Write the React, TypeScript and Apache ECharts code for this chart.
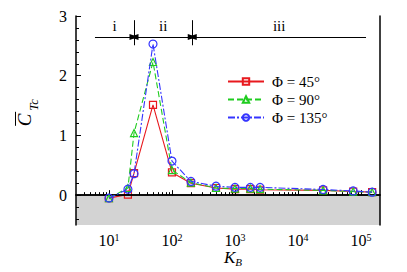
import React, { useEffect, useRef } from 'react';
import * as echarts from 'echarts';

// Stiffness parameter K_B (log axis)
const K = [10, 20, 25, 50, 100, 200, 500, 1000, 1750, 2500, 25000, 75000, 150000];
const phi45 = [-0.05, 0.01, 0.37, 1.51, 0.38, 0.2, 0.12, 0.1, 0.1, 0.09, 0.08, 0.06, 0.05];
const phi90 = [-0.05, 0.12, 1.04, 2.23, 0.42, 0.21, 0.12, 0.11, 0.11, 0.1, 0.08, 0.06, 0.05];
const phi135 = [-0.05, 0.1, 0.36, 2.53, 0.57, 0.23, 0.15, 0.13, 0.13, 0.13, 0.095, 0.07, 0.05];

const seriesNames = ['Φ = 45°', 'Φ = 90°', 'Φ = 135°'];

const xMin = 3;
const xMax = 200000;
const yMin = -0.5;
const yMax = 3;

const xMajorExp = [1, 2, 3, 4, 5];
const minorMultipliers = [2, 3, 4, 5, 6, 7, 8, 9];
const decades = [1, 10, 100, 1000, 10000, 100000];
const yMajor = [0, 1, 2, 3];
const yMinor = [-0.4, -0.2, 0.2, 0.4, 0.6, 0.8, 1.2, 1.4, 1.6, 1.8, 2.2, 2.4, 2.6, 2.8];

// Regimes i, ii, iii
const regionEdges = [6, 25, 210, 120000];
const regionLabels = ['i', 'ii', 'iii'];
const arrowY = 2.65;
const sepTop = 2.93;
const sepBottom = 2.51;

const FONT = '"Liberation Serif", "DejaVu Serif", serif';
const lg = (v: number) => Math.log10(v);

export default function App() {
  const ref = useRef<HTMLDivElement>(null);
  useEffect(() => {
    if (!ref.current) return;
    const chart = echarts.init(ref.current, undefined, { renderer: 'svg' });
    const xMinor: number[] = [];
    decades.forEach((d) => minorMultipliers.forEach((m) => {
      const v = m * d;
      if (v > xMin && v < xMax) xMinor.push(lg(v));
    }));
    const mk = (ys: number[]) => K.map((k, i) => [lg(k), ys[i]]);
    const colors = ['#e8191e', '#1fcc1f', '#3535ff'];
    const symbols = ['rect', 'triangle', 'circle'];
    const symSizes = [7, 7, 8];
    const dashes: any[] = ['solid', [6, 3], [7, 2, 2, 2]];
    const datasets = [phi45, phi90, phi135];

    const gridRect = { left: 76, right: 27, top: 16, bottom: 47 };
    const black = '#000';

    const tri = (from: number, to: number, fromSym: string, toSym: string, label: string) => [
      { coord: [lg(from), arrowY], symbol: fromSym, symbolSize: [6, 9] },
      {
        coord: [lg(to), arrowY], symbol: toSym, symbolSize: [6, 9],
        label: { show: true, formatter: label },
      },
    ];

    const markLines: any[] = [
      tri(regionEdges[0], regionEdges[1], 'none', 'triangle', regionLabels[0]),
      tri(regionEdges[1], regionEdges[2], 'triangle', 'triangle', regionLabels[1]),
      tri(regionEdges[2], regionEdges[3], 'triangle', 'none', regionLabels[2]),
      [
        { coord: [lg(regionEdges[1]), sepBottom], symbol: 'none', label: { show: false } },
        { coord: [lg(regionEdges[1]), sepTop], symbol: 'none', label: { show: false } },
      ],
      [
        { coord: [lg(regionEdges[2]), sepBottom], symbol: 'none', label: { show: false } },
        { coord: [lg(regionEdges[2]), sepTop], symbol: 'none', label: { show: false } },
      ],
    ];

    const option: any = {
      animation: false,
      grid: [
        { ...gridRect },
        { ...gridRect },
      ],
      xAxis: [
        {
          type: 'value', gridIndex: 0, min: lg(xMin), max: lg(xMax), position: 'bottom', z: 5,
          axisLine: { show: true, lineStyle: { color: black, width: 1.5 } },
          axisTick: { show: true, inside: true, length: 5, customValues: xMajorExp, lineStyle: { color: black, width: 1 } },
          axisLabel: {
            customValues: xMajorExp, margin: 7,
            formatter: (v: number) => `{b|10}{s|${Math.round(v)}}`,
            rich: {
              b: { fontSize: 16, lineHeight: 16, fontFamily: FONT, color: black },
              s: { fontSize: 10, lineHeight: 16, fontFamily: FONT, color: black, padding: [0, 0, 6, 0] },
            },
          },
          splitLine: { show: false },
        },
        {
          type: 'value', gridIndex: 0, min: lg(xMin), max: lg(xMax), position: 'top', z: 5,
          axisLine: { show: true, lineStyle: { color: black, width: 1.5 } },
          axisTick: { show: false }, axisLabel: { show: false }, splitLine: { show: false },
        },
        {
          type: 'value', gridIndex: 1, min: lg(xMin), max: lg(xMax), position: 'bottom', z: 5,
          axisLine: { show: false },
          axisTick: { show: true, inside: true, length: 3, customValues: xMinor, lineStyle: { color: black, width: 1 } },
          axisLabel: { show: false }, splitLine: { show: false },
        },
      ],
      yAxis: [
        {
          type: 'value', gridIndex: 0, min: yMin, max: yMax, position: 'left', z: 5,
          axisLine: { show: true, lineStyle: { color: black, width: 1.5 } },
          axisTick: { show: true, inside: true, length: 5, customValues: yMajor, lineStyle: { color: black, width: 1 } },
          axisLabel: { customValues: yMajor, margin: 9, fontSize: 16, fontFamily: FONT, color: black },
          splitLine: { show: false },
        },
        {
          type: 'value', gridIndex: 0, min: yMin, max: yMax, position: 'right', z: 5,
          axisLine: { show: true, lineStyle: { color: black, width: 1.5 } },
          axisTick: { show: false }, axisLabel: { show: false }, splitLine: { show: false },
        },
        {
          type: 'value', gridIndex: 1, min: yMin, max: yMax, position: 'left', z: 5,
          axisLine: { show: false },
          axisTick: { show: true, inside: true, length: 3, customValues: yMinor, lineStyle: { color: black, width: 1 } },
          axisLabel: { show: false }, splitLine: { show: false },
        },
      ],
      legend: {
        orient: 'vertical', left: 222, top: 69, itemWidth: 36, itemHeight: 8, itemGap: 3,
        textStyle: { fontSize: 15, fontFamily: FONT, color: black, padding: [0, 0, 0, 3] },
        data: seriesNames,
      },
      series: [
        {
          type: 'line', name: '_shade', xAxisIndex: 0, yAxisIndex: 0, data: [], z: 1, silent: true,
          markArea: {
            silent: true,
            itemStyle: { color: '#d3d3d3' },
            data: [[{ coord: [lg(xMin), yMin] }, { coord: [lg(xMax), 0] }]],
          },
        },
        {
          type: 'line', name: '_regimes', xAxisIndex: 0, yAxisIndex: 0, data: [], z: 3, silent: true,
          markLine: {
            silent: true, animation: false,
            symbol: ['none', 'none'],
            lineStyle: { color: black, width: 1, type: 'solid' },
            label: { show: false, position: 'insideMiddleTop', distance: 3, fontSize: 15, fontFamily: FONT, color: black },
            emphasis: { disabled: true },
            data: markLines,
          },
        },
        ...datasets.map((ys, i) => ({
          type: 'line', name: seriesNames[i], xAxisIndex: 0, yAxisIndex: 0, z: 4 + i,
          data: mk(ys),
          symbol: symbols[i], symbolSize: symSizes[i],
          lineStyle: { color: colors[i], width: 1.1, type: dashes[i] },
          itemStyle: { color: 'rgba(255,255,255,0)', borderColor: colors[i], borderWidth: 1.2 },
          emphasis: { disabled: true },
        })),
      ],
      graphic: [
        {
          type: 'group', left: 13, top: 99, rotation: Math.PI / 2,
          children: [
            {
              type: 'text', x: 0, y: 0,
              style: { text: 'C', font: `italic 19px ${FONT}`, align: 'center', verticalAlign: 'middle', fill: black },
            },
            {
              type: 'line', shape: { x1: -6, y1: -9, x2: 8, y2: -9 }, style: { stroke: black, lineWidth: 1 },
            },
            {
              type: 'text', x: 9, y: 9,
              style: { text: 'Tc', font: `italic 13px ${FONT}`, align: 'left', verticalAlign: 'middle', fill: black },
            },
          ],
        },
        {
          type: 'text', left: 224, top: 249,
          style: {
            text: '{k|K}{s|B}',
            rich: {
              k: { fontSize: 17, fontFamily: FONT, fontStyle: 'italic', fill: black },
              s: { fontSize: 11, fontFamily: FONT, fontStyle: 'italic', fill: black, padding: [8, 0, 0, 0] },
            },
          },
        },
      ],
    };
    chart.setOption(option);
    return () => chart.dispose();
  }, []);
  return <div ref={ref} style={{ width: 407, height: 272, position: 'absolute', left: 0, top: 0 }} />;
}
